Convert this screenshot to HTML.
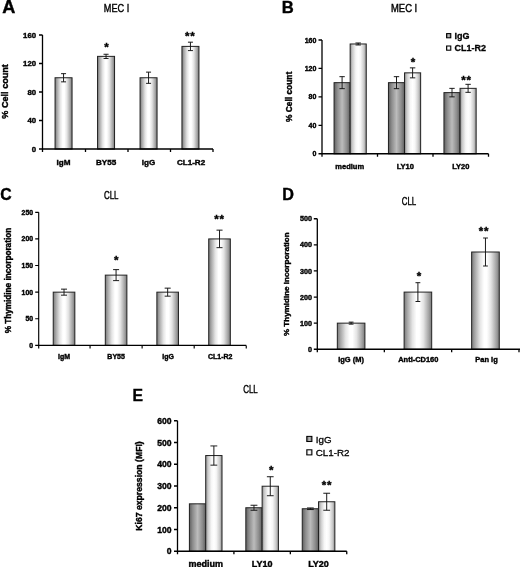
<!DOCTYPE html><html><head><meta charset="utf-8"><title>Figure</title>
<style>html,body{margin:0;padding:0;background:#fff}svg{display:block}</style></head><body>
<svg width="520" height="567" viewBox="0 0 520 567">
<defs>
<linearGradient id="gS" x1="0" x2="1" y1="0" y2="0"><stop offset="0" stop-color="#7a7a7a"/><stop offset="0.12" stop-color="#a8a8a8"/><stop offset="0.3" stop-color="#e4e4e4"/><stop offset="0.45" stop-color="#ffffff"/><stop offset="0.55" stop-color="#ffffff"/><stop offset="0.7" stop-color="#e4e4e4"/><stop offset="0.88" stop-color="#a8a8a8"/><stop offset="1" stop-color="#7a7a7a"/></linearGradient>
<linearGradient id="gD" x1="0" x2="1" y1="0" y2="0"><stop offset="0" stop-color="#606060"/><stop offset="0.2" stop-color="#8c8c8c"/><stop offset="0.5" stop-color="#bcbcbc"/><stop offset="0.8" stop-color="#8c8c8c"/><stop offset="1" stop-color="#606060"/></linearGradient>
<linearGradient id="gL" x1="0" x2="1" y1="0" y2="0"><stop offset="0" stop-color="#909090"/><stop offset="0.15" stop-color="#cccccc"/><stop offset="0.35" stop-color="#f6f6f6"/><stop offset="0.5" stop-color="#ffffff"/><stop offset="0.65" stop-color="#f6f6f6"/><stop offset="0.85" stop-color="#cccccc"/><stop offset="1" stop-color="#909090"/></linearGradient>
<filter id="bl" x="-5%" y="-5%" width="110%" height="110%"><feGaussianBlur stdDeviation="0.35"/></filter>
</defs>
<rect width="520" height="567" fill="#fff"/>
<g filter="url(#bl)">
<rect x="55.05" y="77.75" width="17.00" height="71.25" fill="url(#gS)" stroke="#222" stroke-width="1"/>
<path d="M63.55 73.65V81.85M61.05 73.65H66.05M61.05 81.85H66.05" stroke="#111" stroke-width="0.95" fill="none"/>
<text x="63.55" y="164.5" font-size="8.1" text-anchor="middle" font-family="Liberation Sans, Arial, sans-serif" font-weight="bold" fill="#000" stroke="#000" stroke-width="0.4">IgM</text>
<rect x="97.55" y="56.38" width="17.00" height="92.62" fill="url(#gS)" stroke="#222" stroke-width="1"/>
<path d="M106.05 54.27V58.48M103.55 54.27H108.55M103.55 58.48H108.55" stroke="#111" stroke-width="0.95" fill="none"/>
<text x="106.5" y="51.2" font-size="11.5" text-anchor="middle" font-family="Liberation Sans, Arial, sans-serif" font-weight="bold" fill="#000" stroke="#000" stroke-width="0.4">*</text>
<text x="106.05" y="164.5" font-size="8.1" text-anchor="middle" font-family="Liberation Sans, Arial, sans-serif" font-weight="bold" fill="#000" stroke="#000" stroke-width="0.4">BY55</text>
<rect x="140.05" y="77.75" width="17.00" height="71.25" fill="url(#gS)" stroke="#222" stroke-width="1"/>
<path d="M148.55 72.15V83.35M146.05 72.15H151.05M146.05 83.35H151.05" stroke="#111" stroke-width="0.95" fill="none"/>
<text x="148.55" y="164.5" font-size="8.1" text-anchor="middle" font-family="Liberation Sans, Arial, sans-serif" font-weight="bold" fill="#000" stroke="#000" stroke-width="0.4">IgG</text>
<rect x="181.95" y="46.40" width="17.00" height="102.60" fill="url(#gS)" stroke="#222" stroke-width="1"/>
<path d="M190.45 42.20V50.60M187.95 42.20H192.95M187.95 50.60H192.95" stroke="#111" stroke-width="0.95" fill="none"/>
<text x="189.8" y="40.1" font-size="11.5" text-anchor="middle" font-family="Liberation Sans, Arial, sans-serif" font-weight="bold" fill="#000" stroke="#000" stroke-width="0.4">*<tspan dx="0.7">*</tspan></text>
<text x="191.05" y="164.5" font-size="8.1" text-anchor="middle" font-family="Liberation Sans, Arial, sans-serif" font-weight="bold" fill="#000" stroke="#000" stroke-width="0.4">CL1-R2</text>
<path d="M42.50 35V152M39.00 149H213M39.00 149.00H42.50M39.00 120.50H42.50M39.00 92.00H42.50M39.00 63.50H42.50M39.00 35.00H42.50M85.50 149V152M128.00 149V152M170.50 149V152M213.00 149V152" stroke="#000" stroke-width="1.3" fill="none"/>
<text x="36.1" y="151.808" font-size="7.8" text-anchor="end" font-family="Liberation Sans, Arial, sans-serif" font-weight="bold" fill="#000" stroke="#000" stroke-width="0.4">0</text>
<text x="36.1" y="123.30799999999999" font-size="7.8" text-anchor="end" font-family="Liberation Sans, Arial, sans-serif" font-weight="bold" fill="#000" stroke="#000" stroke-width="0.4">40</text>
<text x="36.1" y="94.80799999999999" font-size="7.8" text-anchor="end" font-family="Liberation Sans, Arial, sans-serif" font-weight="bold" fill="#000" stroke="#000" stroke-width="0.4">80</text>
<text x="36.1" y="66.30799999999999" font-size="7.8" text-anchor="end" font-family="Liberation Sans, Arial, sans-serif" font-weight="bold" fill="#000" stroke="#000" stroke-width="0.4">120</text>
<text x="36.1" y="37.808" font-size="7.8" text-anchor="end" font-family="Liberation Sans, Arial, sans-serif" font-weight="bold" fill="#000" stroke="#000" stroke-width="0.4">160</text>
<text x="7.8" y="91.4" font-size="9.1" text-anchor="middle" font-family="Liberation Sans, Arial, sans-serif" font-weight="bold" fill="#000" transform="rotate(-90 7.8 91.4)" stroke="#000" stroke-width="0.4">% Cell count</text>
<text x="2.3" y="12.9" font-size="17.8" text-anchor="start" font-family="Liberation Sans, Arial, sans-serif" font-weight="bold" fill="#000" textLength="13.1" lengthAdjust="spacingAndGlyphs" stroke="#000" stroke-width="0.4">A</text>
<text x="103.8" y="12.45" font-size="10.3" text-anchor="start" font-family="Liberation Sans, Arial, sans-serif" fill="#000" textLength="25.4" lengthAdjust="spacingAndGlyphs" stroke="#000" stroke-width="0.4">MEC I</text>
<rect x="334.05" y="82.66" width="16.10" height="71.09" fill="url(#gD)" stroke="#222" stroke-width="1"/>
<path d="M342.10 76.66V88.66M339.40 76.66H344.80M339.40 88.66H344.80" stroke="#111" stroke-width="0.95" fill="none"/>
<rect x="350.15" y="43.98" width="16.10" height="109.77" fill="url(#gL)" stroke="#222" stroke-width="1"/>
<path d="M358.20 42.98V44.98M355.50 42.98H360.90M355.50 44.98H360.90" stroke="#111" stroke-width="0.95" fill="none"/>
<text x="349.75" y="169" font-size="7.5" text-anchor="middle" font-family="Liberation Sans, Arial, sans-serif" font-weight="bold" fill="#000" stroke="#000" stroke-width="0.4">medium</text>
<rect x="388.45" y="82.66" width="16.10" height="71.09" fill="url(#gD)" stroke="#222" stroke-width="1"/>
<path d="M396.50 76.66V88.66M393.80 76.66H399.20M393.80 88.66H399.20" stroke="#111" stroke-width="0.95" fill="none"/>
<rect x="404.55" y="72.85" width="16.10" height="80.90" fill="url(#gL)" stroke="#222" stroke-width="1"/>
<path d="M412.60 67.85V77.85M409.90 67.85H415.30M409.90 77.85H415.30" stroke="#111" stroke-width="0.95" fill="none"/>
<text x="412.9" y="65.8" font-size="11.5" text-anchor="middle" font-family="Liberation Sans, Arial, sans-serif" font-weight="bold" fill="#000" stroke="#000" stroke-width="0.4">*</text>
<text x="405.25" y="169" font-size="7.5" text-anchor="middle" font-family="Liberation Sans, Arial, sans-serif" font-weight="bold" fill="#000" stroke="#000" stroke-width="0.4">LY10</text>
<rect x="443.95" y="92.61" width="16.10" height="61.14" fill="url(#gD)" stroke="#222" stroke-width="1"/>
<path d="M452.00 88.36V96.86M449.30 88.36H454.70M449.30 96.86H454.70" stroke="#111" stroke-width="0.95" fill="none"/>
<rect x="460.05" y="88.34" width="16.10" height="65.41" fill="url(#gL)" stroke="#222" stroke-width="1"/>
<path d="M468.10 84.34V92.34M465.40 84.34H470.80M465.40 92.34H470.80" stroke="#111" stroke-width="0.95" fill="none"/>
<text x="466.2" y="84.1" font-size="11.5" text-anchor="middle" font-family="Liberation Sans, Arial, sans-serif" font-weight="bold" fill="#000" stroke="#000" stroke-width="0.4">*<tspan dx="0.7">*</tspan></text>
<text x="460.75" y="169" font-size="7.5" text-anchor="middle" font-family="Liberation Sans, Arial, sans-serif" font-weight="bold" fill="#000" stroke="#000" stroke-width="0.4">LY20</text>
<path d="M322.00 40V156.75M318.50 153.75H488.5M318.50 153.75H322.00M318.50 125.31H322.00M318.50 96.88H322.00M318.50 68.44H322.00M318.50 40.00H322.00M377.50 153.75V156.75M433.00 153.75V156.75M488.50 153.75V156.75" stroke="#000" stroke-width="1.3" fill="none"/>
<text x="316.4" y="156.27" font-size="7.0" text-anchor="end" font-family="Liberation Sans, Arial, sans-serif" font-weight="bold" fill="#000" stroke="#000" stroke-width="0.4">0</text>
<text x="316.4" y="127.8325" font-size="7.0" text-anchor="end" font-family="Liberation Sans, Arial, sans-serif" font-weight="bold" fill="#000" stroke="#000" stroke-width="0.4">40</text>
<text x="316.4" y="99.395" font-size="7.0" text-anchor="end" font-family="Liberation Sans, Arial, sans-serif" font-weight="bold" fill="#000" stroke="#000" stroke-width="0.4">80</text>
<text x="316.4" y="70.9575" font-size="7.0" text-anchor="end" font-family="Liberation Sans, Arial, sans-serif" font-weight="bold" fill="#000" stroke="#000" stroke-width="0.4">120</text>
<text x="316.4" y="42.52" font-size="7.0" text-anchor="end" font-family="Liberation Sans, Arial, sans-serif" font-weight="bold" fill="#000" stroke="#000" stroke-width="0.4">160</text>
<text x="291.8" y="96.9" font-size="8.4" text-anchor="middle" font-family="Liberation Sans, Arial, sans-serif" font-weight="bold" fill="#000" transform="rotate(-90 291.8 96.9)" stroke="#000" stroke-width="0.4">% Cell count</text>
<text x="281.7" y="13.2" font-size="17.0" text-anchor="start" font-family="Liberation Sans, Arial, sans-serif" font-weight="bold" fill="#000" textLength="12.0" lengthAdjust="spacingAndGlyphs" stroke="#000" stroke-width="0.4">B</text>
<text x="391" y="12.05" font-size="10.3" text-anchor="start" font-family="Liberation Sans, Arial, sans-serif" fill="#000" textLength="26.2" lengthAdjust="spacingAndGlyphs" stroke="#000" stroke-width="0.4">MEC I</text>
<rect x="446.6" y="33.6" width="4.2" height="4.2" fill="url(#gD)" stroke="#000" stroke-width="1.05"/>
<text x="454.5" y="38.800000000000004" font-size="9" text-anchor="start" font-family="Liberation Sans, Arial, sans-serif" font-weight="bold" fill="#000" stroke="#000" stroke-width="0.3">IgG</text>
<rect x="446.6" y="46.0" width="4.2" height="4.2" fill="url(#gL)" stroke="#000" stroke-width="1.05"/>
<text x="454.5" y="51.2" font-size="9" text-anchor="start" font-family="Liberation Sans, Arial, sans-serif" font-weight="bold" fill="#000" stroke="#000" stroke-width="0.3">CL1-R2</text>
<rect x="53.23" y="292.16" width="21.60" height="53.24" fill="url(#gS)" stroke="#222" stroke-width="1"/>
<path d="M64.03 289.16V295.16M61.03 289.16H67.03M61.03 295.16H67.03" stroke="#111" stroke-width="0.95" fill="none"/>
<text x="64.03125" y="358.9" font-size="7.0" text-anchor="middle" font-family="Liberation Sans, Arial, sans-serif" font-weight="bold" fill="#000" stroke="#000" stroke-width="0.4">IgM</text>
<rect x="105.29" y="275.12" width="21.60" height="70.28" fill="url(#gS)" stroke="#222" stroke-width="1"/>
<path d="M116.09 269.62V280.62M113.09 269.62H119.09M113.09 280.62H119.09" stroke="#111" stroke-width="0.95" fill="none"/>
<text x="116.2" y="263.8" font-size="11.5" text-anchor="middle" font-family="Liberation Sans, Arial, sans-serif" font-weight="bold" fill="#000" stroke="#000" stroke-width="0.4">*</text>
<text x="116.09375" y="358.9" font-size="7.0" text-anchor="middle" font-family="Liberation Sans, Arial, sans-serif" font-weight="bold" fill="#000" stroke="#000" stroke-width="0.4">BY55</text>
<rect x="156.86" y="292.16" width="21.60" height="53.24" fill="url(#gS)" stroke="#222" stroke-width="1"/>
<path d="M167.66 288.16V296.16M164.66 288.16H170.66M164.66 296.16H170.66" stroke="#111" stroke-width="0.95" fill="none"/>
<text x="168.15625" y="358.9" font-size="7.0" text-anchor="middle" font-family="Liberation Sans, Arial, sans-serif" font-weight="bold" fill="#000" stroke="#000" stroke-width="0.4">IgG</text>
<rect x="208.72" y="238.92" width="21.60" height="106.48" fill="url(#gS)" stroke="#222" stroke-width="1"/>
<path d="M219.52 230.17V247.67M216.52 230.17H222.52M216.52 247.67H222.52" stroke="#111" stroke-width="0.95" fill="none"/>
<text x="219.2" y="222.9" font-size="11.5" text-anchor="middle" font-family="Liberation Sans, Arial, sans-serif" font-weight="bold" fill="#000" stroke="#000" stroke-width="0.4">*<tspan dx="0.7">*</tspan></text>
<text x="220.21875" y="358.9" font-size="7.0" text-anchor="middle" font-family="Liberation Sans, Arial, sans-serif" font-weight="bold" fill="#000" stroke="#000" stroke-width="0.4">CL1-R2</text>
<path d="M38.70 212.3V348.4M35.20 345.4H246.25M35.20 345.40H38.70M35.20 318.78H38.70M35.20 292.16H38.70M35.20 265.54H38.70M35.20 238.92H38.70M35.20 212.30H38.70M90.06 345.4V348.4M142.12 345.4V348.4M194.19 345.4V348.4M246.25 345.4V348.4" stroke="#000" stroke-width="1.15" fill="none"/>
<text x="33.1" y="347.88399999999996" font-size="6.9" text-anchor="end" font-family="Liberation Sans, Arial, sans-serif" font-weight="bold" fill="#000" stroke="#000" stroke-width="0.4">0</text>
<text x="33.1" y="321.26399999999995" font-size="6.9" text-anchor="end" font-family="Liberation Sans, Arial, sans-serif" font-weight="bold" fill="#000" stroke="#000" stroke-width="0.4">50</text>
<text x="33.1" y="294.64399999999995" font-size="6.9" text-anchor="end" font-family="Liberation Sans, Arial, sans-serif" font-weight="bold" fill="#000" stroke="#000" stroke-width="0.4">100</text>
<text x="33.1" y="268.02399999999994" font-size="6.9" text-anchor="end" font-family="Liberation Sans, Arial, sans-serif" font-weight="bold" fill="#000" stroke="#000" stroke-width="0.4">150</text>
<text x="33.1" y="241.40400000000002" font-size="6.9" text-anchor="end" font-family="Liberation Sans, Arial, sans-serif" font-weight="bold" fill="#000" stroke="#000" stroke-width="0.4">200</text>
<text x="33.1" y="214.78400000000002" font-size="6.9" text-anchor="end" font-family="Liberation Sans, Arial, sans-serif" font-weight="bold" fill="#000" stroke="#000" stroke-width="0.4">250</text>
<text x="10.6" y="280.6" font-size="8.2" text-anchor="middle" font-family="Liberation Sans, Arial, sans-serif" font-weight="bold" fill="#000" transform="rotate(-90 10.6 280.6)" stroke="#000" stroke-width="0.4">% Thymidine incorporation</text>
<text x="0.3" y="200.2" font-size="16.5" text-anchor="start" font-family="Liberation Sans, Arial, sans-serif" font-weight="bold" fill="#000" textLength="11.4" lengthAdjust="spacingAndGlyphs" stroke="#000" stroke-width="0.4">C</text>
<text x="104" y="198.65" font-size="10.3" text-anchor="start" font-family="Liberation Sans, Arial, sans-serif" fill="#000" textLength="14.5" lengthAdjust="spacingAndGlyphs" stroke="#000" stroke-width="0.4">CLL</text>
<rect x="337.32" y="323.15" width="27.60" height="26.10" fill="url(#gS)" stroke="#222" stroke-width="1"/>
<path d="M351.12 322.15V324.15M348.72 322.15H353.52M348.72 324.15H353.52" stroke="#111" stroke-width="0.95" fill="none"/>
<text x="351.06666666666666" y="362" font-size="7.45" text-anchor="middle" font-family="Liberation Sans, Arial, sans-serif" font-weight="bold" fill="#000" stroke="#000" stroke-width="0.4">IgG (M)</text>
<rect x="404.10" y="292.09" width="27.60" height="57.16" fill="url(#gS)" stroke="#222" stroke-width="1"/>
<path d="M417.90 282.69V301.49M415.50 282.69H420.30M415.50 301.49H420.30" stroke="#111" stroke-width="0.95" fill="none"/>
<text x="419.0" y="279.5" font-size="11.5" text-anchor="middle" font-family="Liberation Sans, Arial, sans-serif" font-weight="bold" fill="#000" stroke="#000" stroke-width="0.4">*</text>
<text x="418.3" y="362" font-size="7.45" text-anchor="middle" font-family="Liberation Sans, Arial, sans-serif" font-weight="bold" fill="#000" stroke="#000" stroke-width="0.4">Anti-CD160</text>
<rect x="471.66" y="252.00" width="27.60" height="97.25" fill="url(#gS)" stroke="#222" stroke-width="1"/>
<path d="M485.46 238.00V266.00M483.06 238.00H487.86M483.06 266.00H487.86" stroke="#111" stroke-width="0.95" fill="none"/>
<text x="483.7" y="235.3" font-size="11.5" text-anchor="middle" font-family="Liberation Sans, Arial, sans-serif" font-weight="bold" fill="#000" stroke="#000" stroke-width="0.4">*<tspan dx="0.7">*</tspan></text>
<text x="486.5333333333333" y="362" font-size="7.45" text-anchor="middle" font-family="Liberation Sans, Arial, sans-serif" font-weight="bold" fill="#000" stroke="#000" stroke-width="0.4">Pan Ig</text>
<path d="M317.30 218.75V352.25M313.80 349.25H520.5M313.80 349.25H317.30M313.80 323.15H317.30M313.80 297.05H317.30M313.80 270.95H317.30M313.80 244.85H317.30M313.80 218.75H317.30M384.33 349.25V352.25M451.67 349.25V352.25M519.00 349.25V352.25" stroke="#000" stroke-width="1.3" fill="none"/>
<text x="311.90000000000003" y="351.842" font-size="7.2" text-anchor="end" font-family="Liberation Sans, Arial, sans-serif" font-weight="bold" fill="#000" stroke="#000" stroke-width="0.4">0</text>
<text x="311.90000000000003" y="325.74199999999996" font-size="7.2" text-anchor="end" font-family="Liberation Sans, Arial, sans-serif" font-weight="bold" fill="#000" stroke="#000" stroke-width="0.4">100</text>
<text x="311.90000000000003" y="299.642" font-size="7.2" text-anchor="end" font-family="Liberation Sans, Arial, sans-serif" font-weight="bold" fill="#000" stroke="#000" stroke-width="0.4">200</text>
<text x="311.90000000000003" y="273.542" font-size="7.2" text-anchor="end" font-family="Liberation Sans, Arial, sans-serif" font-weight="bold" fill="#000" stroke="#000" stroke-width="0.4">300</text>
<text x="311.90000000000003" y="247.442" font-size="7.2" text-anchor="end" font-family="Liberation Sans, Arial, sans-serif" font-weight="bold" fill="#000" stroke="#000" stroke-width="0.4">400</text>
<text x="311.90000000000003" y="221.342" font-size="7.2" text-anchor="end" font-family="Liberation Sans, Arial, sans-serif" font-weight="bold" fill="#000" stroke="#000" stroke-width="0.4">500</text>
<text x="289.4" y="284.2" font-size="8.05" text-anchor="middle" font-family="Liberation Sans, Arial, sans-serif" font-weight="bold" fill="#000" transform="rotate(-90 289.4 284.2)" stroke="#000" stroke-width="0.4">% Thymidine incorporation</text>
<text x="282.3" y="200.3" font-size="16.5" text-anchor="start" font-family="Liberation Sans, Arial, sans-serif" font-weight="bold" fill="#000" textLength="11.7" lengthAdjust="spacingAndGlyphs" stroke="#000" stroke-width="0.4">D</text>
<text x="401.7" y="205.35" font-size="10.3" text-anchor="start" font-family="Liberation Sans, Arial, sans-serif" fill="#000" textLength="14.5" lengthAdjust="spacingAndGlyphs" stroke="#000" stroke-width="0.4">CLL</text>
<rect x="189.41" y="503.83" width="16.30" height="47.42" fill="url(#gD)" stroke="#222" stroke-width="1"/>
<rect x="205.71" y="455.55" width="16.30" height="95.70" fill="url(#gL)" stroke="#222" stroke-width="1"/>
<path d="M213.86 445.95V465.15M210.46 445.95H217.26M210.46 465.15H217.26" stroke="#111" stroke-width="0.95" fill="none"/>
<text x="205.70833333333334" y="566.5" font-size="9.0" text-anchor="middle" font-family="Liberation Sans, Arial, sans-serif" font-weight="bold" fill="#000" stroke="#000" stroke-width="0.4">medium</text>
<rect x="245.82" y="507.75" width="16.30" height="43.50" fill="url(#gD)" stroke="#222" stroke-width="1"/>
<path d="M253.97 505.25V510.25M250.57 505.25H257.38M250.57 510.25H257.38" stroke="#111" stroke-width="0.95" fill="none"/>
<rect x="262.12" y="486.22" width="16.30" height="65.03" fill="url(#gL)" stroke="#222" stroke-width="1"/>
<path d="M270.27 476.72V495.72M266.88 476.72H273.67M266.88 495.72H273.67" stroke="#111" stroke-width="0.95" fill="none"/>
<text x="271.3" y="474.1" font-size="11.5" text-anchor="middle" font-family="Liberation Sans, Arial, sans-serif" font-weight="bold" fill="#000" stroke="#000" stroke-width="0.4">*</text>
<text x="262.125" y="566.5" font-size="9.0" text-anchor="middle" font-family="Liberation Sans, Arial, sans-serif" font-weight="bold" fill="#000" stroke="#000" stroke-width="0.4">LY10</text>
<rect x="302.24" y="508.75" width="16.30" height="42.50" fill="url(#gD)" stroke="#222" stroke-width="1"/>
<path d="M310.39 507.95V509.55M306.99 507.95H313.79M306.99 509.55H313.79" stroke="#111" stroke-width="0.95" fill="none"/>
<rect x="318.54" y="501.75" width="16.30" height="49.50" fill="url(#gL)" stroke="#222" stroke-width="1"/>
<path d="M326.69 493.25V510.25M323.29 493.25H330.09M323.29 510.25H330.09" stroke="#111" stroke-width="0.95" fill="none"/>
<text x="326.7" y="489.1" font-size="11.5" text-anchor="middle" font-family="Liberation Sans, Arial, sans-serif" font-weight="bold" fill="#000" stroke="#000" stroke-width="0.4">*<tspan dx="0.7">*</tspan></text>
<text x="318.54166666666663" y="566.5" font-size="9.0" text-anchor="middle" font-family="Liberation Sans, Arial, sans-serif" font-weight="bold" fill="#000" stroke="#000" stroke-width="0.4">LY20</text>
<path d="M177.50 420.75V554.25M174.00 551.25H346.75M174.00 551.25H177.50M174.00 529.50H177.50M174.00 507.75H177.50M174.00 486.00H177.50M174.00 464.25H177.50M174.00 442.50H177.50M174.00 420.75H177.50M233.92 551.25V554.25M290.33 551.25V554.25M346.75 551.25V554.25" stroke="#000" stroke-width="1.3" fill="none"/>
<text x="171.5" y="554.346" font-size="8.6" text-anchor="end" font-family="Liberation Sans, Arial, sans-serif" font-weight="bold" fill="#000" stroke="#000" stroke-width="0.4">0</text>
<text x="171.5" y="532.596" font-size="8.6" text-anchor="end" font-family="Liberation Sans, Arial, sans-serif" font-weight="bold" fill="#000" stroke="#000" stroke-width="0.4">100</text>
<text x="171.5" y="510.846" font-size="8.6" text-anchor="end" font-family="Liberation Sans, Arial, sans-serif" font-weight="bold" fill="#000" stroke="#000" stroke-width="0.4">200</text>
<text x="171.5" y="489.096" font-size="8.6" text-anchor="end" font-family="Liberation Sans, Arial, sans-serif" font-weight="bold" fill="#000" stroke="#000" stroke-width="0.4">300</text>
<text x="171.5" y="467.346" font-size="8.6" text-anchor="end" font-family="Liberation Sans, Arial, sans-serif" font-weight="bold" fill="#000" stroke="#000" stroke-width="0.4">400</text>
<text x="171.5" y="445.596" font-size="8.6" text-anchor="end" font-family="Liberation Sans, Arial, sans-serif" font-weight="bold" fill="#000" stroke="#000" stroke-width="0.4">500</text>
<text x="171.5" y="423.846" font-size="8.6" text-anchor="end" font-family="Liberation Sans, Arial, sans-serif" font-weight="bold" fill="#000" stroke="#000" stroke-width="0.4">600</text>
<text x="141.8" y="486.0" font-size="8.66" text-anchor="middle" font-family="Liberation Sans, Arial, sans-serif" font-weight="bold" fill="#000" transform="rotate(-90 141.8 486.0)" stroke="#000" stroke-width="0.4">Ki67 expression (MFI)</text>
<text x="132.5" y="401.2" font-size="16.5" text-anchor="start" font-family="Liberation Sans, Arial, sans-serif" font-weight="bold" fill="#000" textLength="10.5" lengthAdjust="spacingAndGlyphs" stroke="#000" stroke-width="0.4">E</text>
<text x="243.2" y="392.85" font-size="10.3" text-anchor="start" font-family="Liberation Sans, Arial, sans-serif" fill="#000" textLength="14.5" lengthAdjust="spacingAndGlyphs" stroke="#000" stroke-width="0.4">CLL</text>
<rect x="306.8" y="436.4" width="5.1" height="5.1" fill="url(#gD)" stroke="#000" stroke-width="1.05"/>
<text x="315.8" y="442.5" font-size="9.8" text-anchor="start" font-family="Liberation Sans, Arial, sans-serif" fill="#000" stroke="#000" stroke-width="0.3">IgG</text>
<rect x="306.8" y="449.8" width="5.1" height="5.1" fill="url(#gL)" stroke="#000" stroke-width="1.05"/>
<text x="315.8" y="455.90000000000003" font-size="9.8" text-anchor="start" font-family="Liberation Sans, Arial, sans-serif" fill="#000" stroke="#000" stroke-width="0.3">CL1-R2</text>
</g>
</svg></body></html>
